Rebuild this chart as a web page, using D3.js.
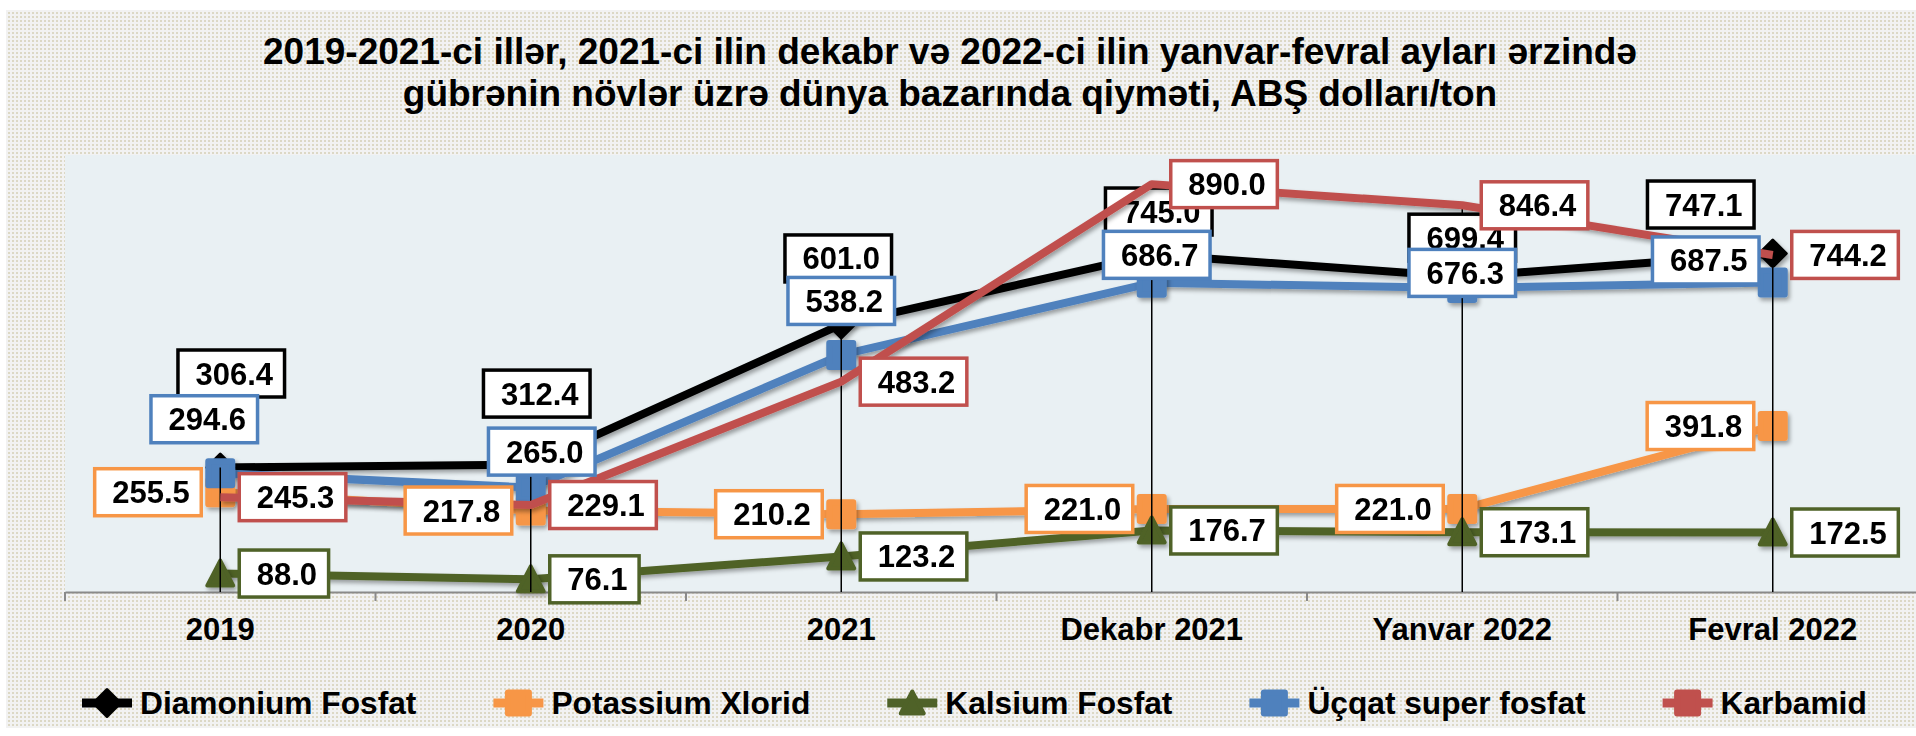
<!DOCTYPE html>
<html>
<head>
<meta charset="utf-8">
<script src="https://cdn.jsdelivr.net/npm/d3@7"></script>
<style>
  body { margin: 0; background: #ffffff; }
  svg { display: block; }
  text { font-family: "Liberation Sans", Arial, sans-serif; font-weight: bold; fill: #000; }
</style>
</head>
<body>
<svg id="chart" width="1916" height="736"></svg>
<script>
// ---- data (USD per ton) ----
const categories = ["2019", "2020", "2021", "Dekabr 2021", "Yanvar 2022", "Fevral 2022"];
const diamoniumFosfat  = [306.4, 312.4, 601.0, 745.0, 699.4, 747.1];
const potassiumXlorid  = [255.5, 217.8, 210.2, 221.0, 221.0, 391.8];
const kalsiumFosfat    = [88.0, 76.1, 123.2, 176.7, 173.1, 172.5];
const ucqatSuperFosfat = [294.6, 265.0, 538.2, 686.7, 676.3, 687.5];
const karbamid         = [245.3, 229.1, 483.2, 890.0, 846.4, 744.2];
const seriesNames = ["Diamonium Fosfat", "Potassium Xlorid", "Kalsium Fosfat", "Üçqat super fosfat", "Karbamid"];
const titleLines = [
  "2019-2021-ci illər, 2021-ci ilin dekabr və 2022-ci ilin yanvar-fevral ayları ərzində",
  "gübrənin növlər üzrə dünya bazarında qiyməti, ABŞ dolları/ton"
];
const yDomain = [50, 950];

// ---- layout ----
const W = 1916, H = 736;
const plot = { left: 65, top: 155, bottom: 592, right: 1928 };
const fontSize = 31;
const legendFontSize = 31.7;

// per-label offsets of the label box centre from its point (px)
const labelOffsets = {
  black: [[11, -94], [6, -71], [-3, -66], [7, -43], [0, -39], [-72, -49]],
  blue:  [[-16, -54], [11, -36], [0, -54], [5, -28], [0, -15], [-67, -22]]
};

const series = [
  { name: seriesNames[0], values: diamoniumFosfat,  color: "#000000", marker: "diamond",  place: "custom", offsets: labelOffsets.black },
  { name: seriesNames[1], values: potassiumXlorid,  color: "#f79646", marker: "square",   place: "left" },
  { name: seriesNames[2], values: kalsiumFosfat,    color: "#4f6228", marker: "triangle", place: "right" },
  { name: seriesNames[3], values: ucqatSuperFosfat, color: "#4f81bd", marker: "square",   place: "custom", offsets: labelOffsets.blue },
  { name: seriesNames[4], values: karbamid,         color: "#c0504d", marker: "none",     legendMarker: "square", place: "right" }
];

const svg = d3.select("#chart");
const defs = svg.append("defs");

const pat = defs.append("pattern").attr("id", "dots")
  .attr("width", 4).attr("height", 4).attr("patternUnits", "userSpaceOnUse");
pat.append("rect").attr("width", 4).attr("height", 4).attr("fill", "#f2f2f2");
pat.append("rect").attr("width", 2).attr("height", 2).attr("fill", "#dcd8c5");

const shadow = defs.append("filter").attr("id", "shadow")
  .attr("x", "-5%").attr("y", "-20%").attr("width", "110%").attr("height", "140%");
shadow.append("feDropShadow").attr("dx", 2).attr("dy", 3).attr("stdDeviation", 2)
  .attr("flood-color", "#000").attr("flood-opacity", 0.35);

defs.append("clipPath").attr("id", "clip")
  .append("rect").attr("x", 0).attr("y", 0).attr("width", W).attr("height", H);

// chart area background
svg.append("rect").attr("x", 6).attr("y", 10).attr("width", W).attr("height", 718).attr("fill", "url(#dots)");

// title
svg.append("g").selectAll("text").data(titleLines).join("text")
  .attr("x", 950).attr("y", (d, i) => (i === 0 ? 64 : 106))
  .attr("text-anchor", "middle").attr("font-size", 37).text(d => d);

// scales
const x = d3.scaleBand().domain(categories).range([plot.left, plot.right]).padding(0);
const cx = c => x(c) + x.bandwidth() / 2;
const y = d3.scaleLinear().domain(yDomain).range([plot.bottom, plot.top]);

const g = svg.append("g").attr("clip-path", "url(#clip)");

// plot area
g.append("rect").attr("x", plot.left).attr("y", plot.top)
  .attr("width", plot.right - plot.left).attr("height", plot.bottom - plot.top).attr("fill", "#e9f0f3");

// x axis
const xAxis = d3.axisBottom(x).tickSize(0).tickPadding(0).tickFormat("");
const axisG = g.append("g").attr("transform", `translate(0,${plot.bottom})`).call(xAxis);
axisG.select(".domain").attr("stroke", "#8a8a8a").attr("stroke-width", 2);
axisG.selectAll(".tick").remove();
const boundaries = categories.map(c => x(c)).concat([x(categories[categories.length - 1]) + x.bandwidth()]);
g.selectAll("line.xtick").data(boundaries).join("line").attr("class", "xtick")
  .attr("x1", d => d).attr("x2", d => d).attr("y1", plot.bottom).attr("y2", plot.bottom + 9)
  .attr("stroke", "#8a8a8a").attr("stroke-width", 2);
g.selectAll("text.xlabel").data(categories).join("text").attr("class", "xlabel")
  .attr("x", d => cx(d)).attr("y", 640).attr("text-anchor", "middle")
  .attr("font-size", fontSize).text(d => d);

// series lines (Karbamid is drawn in a later layer)
const line = d3.line().x((d, i) => cx(categories[i])).y(d => y(d));
function drawLine(parent, s) {
  parent.append("path").datum(s.values).attr("d", line)
    .attr("fill", "none").attr("stroke", s.color).attr("stroke-width", 8)
    .attr("stroke-linejoin", "round");
}
const linesG = g.append("g").attr("filter", "url(#shadow)");
series.slice(0, 4).forEach(s => drawLine(linesG, s));

// markers
function drawMarker(sel, type, color, size) {
  const h = size / 2;
  let p;
  if (type === "square") {
    const a = h - 3;
    p = `M${-a},${-a}H${a}V${a}H${-a}Z`;
    sel.append("path").attr("d", p).attr("fill", color).attr("stroke", color)
      .attr("stroke-width", 6).attr("stroke-linejoin", "round");
  } else if (type === "diamond") {
    const a = h - 1.5;
    p = `M0,${-a}L${a},0L0,${a}L${-a},0Z`;
    sel.append("path").attr("d", p).attr("fill", color).attr("stroke", color)
      .attr("stroke-width", 3).attr("stroke-linejoin", "round");
  } else if (type === "triangle") {
    p = `M0,${-h + 2}L${h - 2},${h - 3}L${-h + 2},${h - 3}Z`;
    sel.append("path").attr("d", p).attr("fill", color).attr("stroke", color)
      .attr("stroke-width", 4).attr("stroke-linejoin", "round");
  }
}
const markersG = g.append("g").attr("filter", "url(#shadow)");
series.forEach(s => {
  if (s.marker === "none") return;
  s.values.forEach((v, i) => {
    const m = markersG.append("g").attr("transform", `translate(${cx(categories[i])},${y(v)})`);
    drawMarker(m, s.marker, s.color, 30);
  });
});

// drop lines from the highest value of each category to the axis
const maxima = categories.map((c, i) => d3.max(series, s => s.values[i]));
g.selectAll("line.drop").data(maxima).join("line").attr("class", "drop")
  .attr("x1", (d, i) => cx(categories[i])).attr("x2", (d, i) => cx(categories[i]))
  .attr("y1", d => y(d)).attr("y2", plot.bottom)
  .attr("stroke", "#000").attr("stroke-width", 1.5);

// data labels
const boxH = 47, pad = 14.5, gap = 19;
function drawLabels(parent, s) {
  s.values.forEach((v, i) => {
    const px = cx(categories[i]), py = y(v);
    const lbl = parent.append("g");
    const rect = lbl.append("rect");
    const t = lbl.append("text").attr("font-size", fontSize).attr("text-anchor", "middle").text(v.toFixed(1));
    const w = t.node().getComputedTextLength() + 2 * pad;
    let lx, ly;
    if (s.place === "left") { lx = px - gap - w / 2; ly = py; }
    else if (s.place === "right") { lx = px + gap + w / 2; ly = py; }
    else { lx = px + s.offsets[i][0]; ly = py + s.offsets[i][1]; }
    rect.attr("x", lx - w / 2).attr("y", ly - boxH / 2).attr("width", w).attr("height", boxH)
      .attr("fill", "#ffffff").attr("stroke", s.color).attr("stroke-width", 3.5);
    t.attr("x", lx + 3).attr("y", ly + 11);
  });
}
drawLabels(g.append("g"), series[0]);
drawLine(g.append("g").attr("filter", "url(#shadow)"), series[4]);
const labelsG = g.append("g");
series.slice(1).forEach(s => drawLabels(labelsG, s));

// legend
const legend = svg.append("g");
let lx0 = 82;
const ly0 = 703;
series.forEach(s => {
  const e = legend.append("g").attr("transform", `translate(${lx0},${ly0})`);
  e.append("line").attr("x1", 0).attr("x2", 50).attr("y1", 0).attr("y2", 0)
    .attr("stroke", s.color).attr("stroke-width", 9);
  const m = e.append("g").attr("transform", "translate(25,0)");
  const type = s.legendMarker || s.marker;
  drawMarker(m, type, s.color, type === "diamond" ? 30 : 27);
  const t = e.append("text").attr("x", 58).attr("y", 11).attr("font-size", legendFontSize).text(s.name);
  lx0 += 58 + t.node().getComputedTextLength() + 77;
});
</script>
</body>
</html>
